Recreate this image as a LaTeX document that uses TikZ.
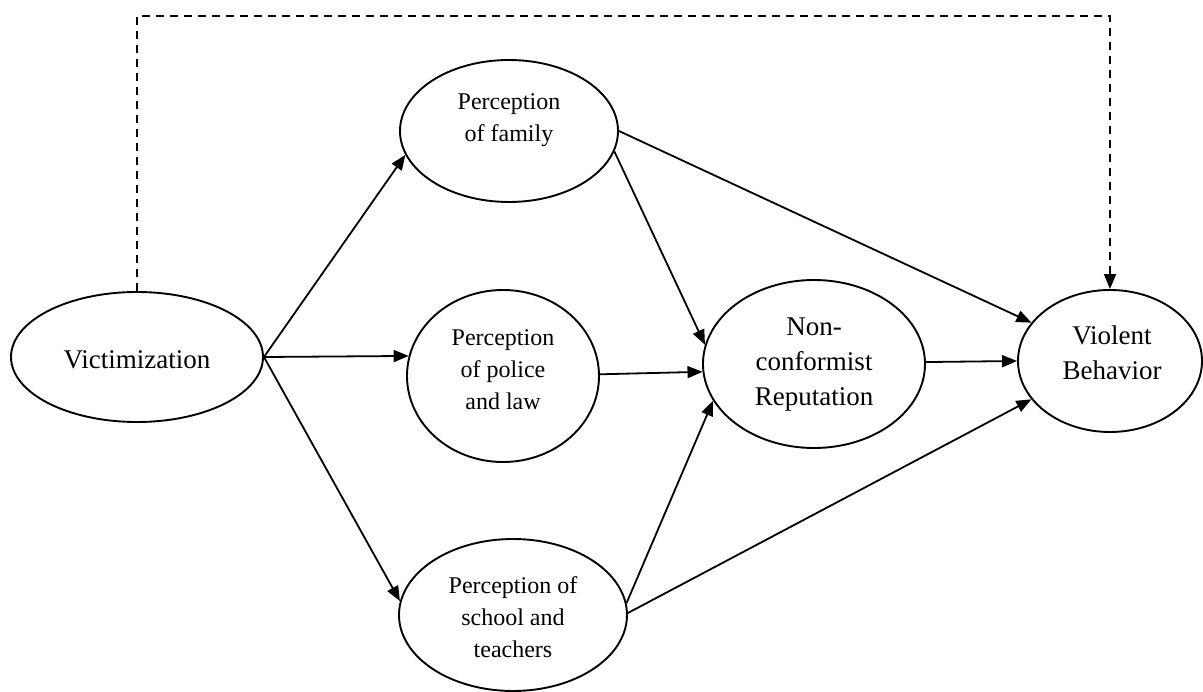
\documentclass[tikz,border=0pt]{standalone}
\usepackage{fontspec}
\setmainfont{Liberation Serif}
\usetikzlibrary{shapes.geometric,arrows.meta}
\begin{document}
\begin{tikzpicture}[x=1pt,y=-1pt,
  ell/.style={draw, ellipse, line width=1.9pt, inner sep=0pt},
  big/.style={align=center, font=\fontsize{27}{35}\selectfont},
  small/.style={align=center, font=\fontsize{24}{32}\selectfont},
  link/.style={line width=1.8pt, -{Triangle[length=15pt,width=12pt]}},
  dlink/.style={link, dash pattern=on 8pt off 6pt}]
\useasboundingbox (0,0) rectangle (1203,692);
% ellipses
\node[ell, minimum width=252pt, minimum height=130pt] (vic) at (137,357) {};
\node[ell, minimum width=218pt, minimum height=142pt] (fam) at (509,131) {};
\node[ell, minimum width=192pt, minimum height=172pt] (pol) at (503,376) {};
\node[ell, minimum width=228pt, minimum height=152pt] (sch) at (513,615) {};
\node[ell, minimum width=222pt, minimum height=168pt] (non) at (814,364) {};
\node[ell, minimum width=184pt, minimum height=142pt] (vio) at (1110,361) {};
% texts
\node[big] (tvic) at (137,360) {Victimization};
\node[small] (tfam) at (509,120) {Perception\\of family};
\node[small] (tpol) at (503,370) {Perception\\of police\\and law};
\node[small] (tsch) at (513,617) {Perception of\\school and\\teachers};
\node[big] (tnon) at (814,365) {Non-\\conformist\\Reputation};
\node[big] (tvio) at (1112,353) {Violent\\Behavior};
% connectors
\draw[link] (vic.east) -- (fam.193);
\draw[link] (vic.east) -- (pol.168.5);
\draw[link] (vic.east) -- (sch.173);
\draw[link] (fam.east) -- (vio.154);
\draw[link] (fam.-11.5) -- (non.170);
\draw[link] (pol.1.8) -- (non.184.7);
\draw[link] (sch.6) -- (non.200.7);
\draw[link] (sch.1) -- (vio.206.3);
\draw[link] (non.1) -- (vio.180);
\coordinate (top) at (600,16);
\draw[dlink] (vic.north) |- (top) -| (vio.north);
\end{tikzpicture}
\end{document}
